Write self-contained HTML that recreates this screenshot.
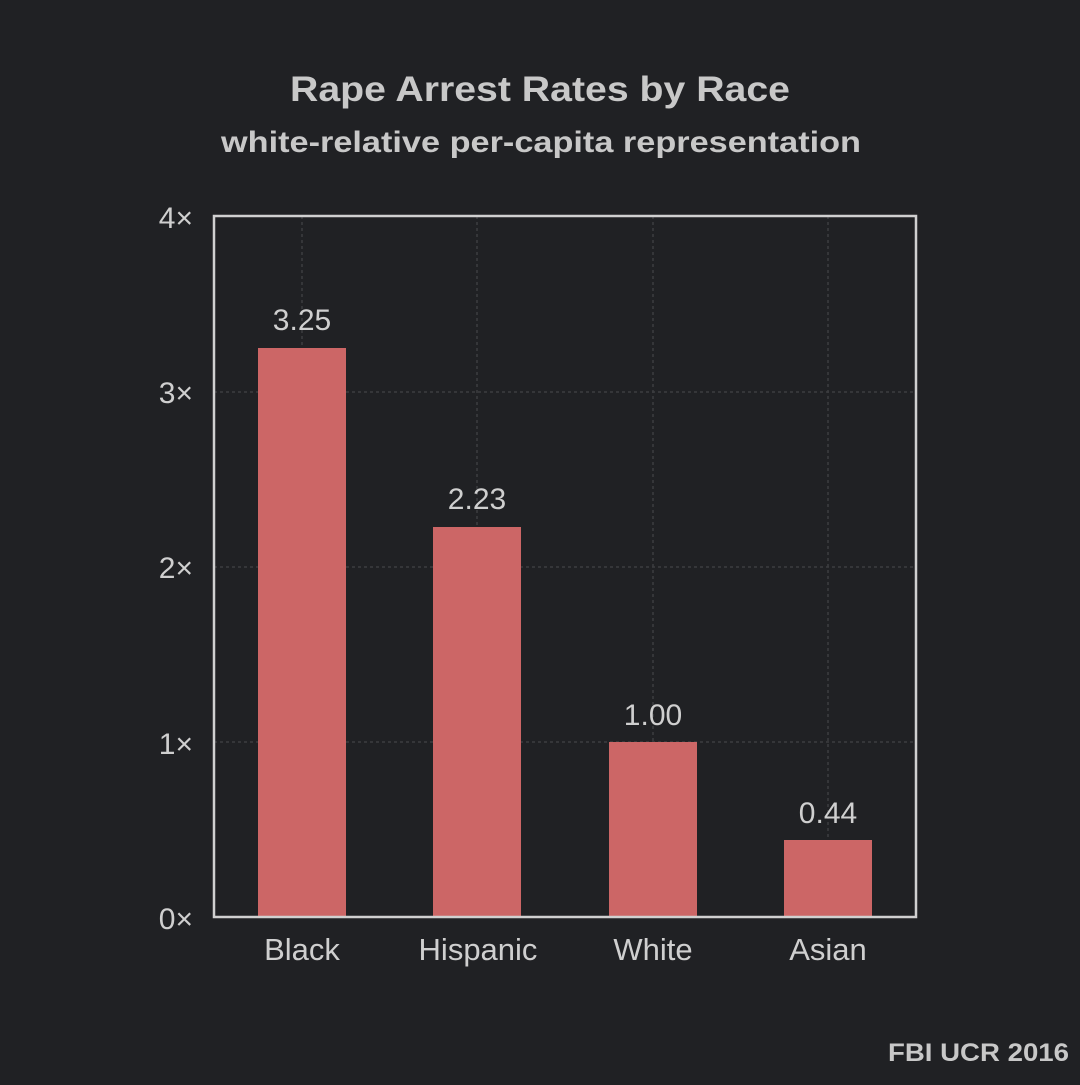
<!DOCTYPE html>
<html><head><meta charset="utf-8"><style>
html,body{margin:0;padding:0;background:#202124;}
</style></head><body>
<svg width="1080" height="1080" xmlns="http://www.w3.org/2000/svg" font-family="Liberation Sans, DejaVu Sans, sans-serif">
<rect width="1080" height="1080" fill="#202124"/>
<text x="290" y="101" textLength="500" lengthAdjust="spacingAndGlyphs" fill="#c8c8c8" font-size="35" font-weight="bold">Rape Arrest Rates by Race</text>
<text x="221" y="152" textLength="640" lengthAdjust="spacingAndGlyphs" fill="#c8c8c8" font-size="30" font-weight="bold">white-relative per-capita representation</text>
<g stroke="#3c3d40" stroke-width="1.5" stroke-dasharray="3,3">
<line x1="302" y1="216" x2="302" y2="917"/><line x1="477" y1="216" x2="477" y2="917"/>
<line x1="653" y1="216" x2="653" y2="917"/><line x1="828" y1="216" x2="828" y2="917"/>
<line x1="214" y1="392" x2="916" y2="392"/><line x1="214" y1="567" x2="916" y2="567"/>
<line x1="214" y1="742" x2="916" y2="742"/>
</g>
<g fill="#cc6666">
<rect x="258" y="348" width="88" height="569"/>
<rect x="433" y="527" width="88" height="390"/>
<rect x="609" y="742" width="88" height="175"/>
<rect x="784" y="840" width="88" height="77"/>
</g>
<rect x="214" y="216" width="702" height="701" fill="none" stroke="#d0d0d0" stroke-width="2.5"/>
<g fill="#cfcfcf" font-size="30" text-anchor="middle">
<text x="302" y="330">3.25</text><text x="477" y="509">2.23</text>
<text x="653" y="725">1.00</text><text x="828" y="823">0.44</text>
</g>
<g fill="#cfcfcf" font-size="31" text-anchor="middle">
<text x="302" y="960">Black</text><text x="478" y="960">Hispanic</text>
<text x="653" y="960">White</text><text x="828" y="960">Asian</text>
</g>
<g fill="#cfcfcf" font-size="30" text-anchor="end">
<text x="193" y="228">4×</text><text x="193" y="403">3×</text><text x="193" y="578">2×</text>
<text x="193" y="754">1×</text><text x="193" y="929">0×</text>
</g>
<text x="888" y="1061" textLength="181" lengthAdjust="spacingAndGlyphs" fill="#c8c8c8" font-size="25" font-weight="bold">FBI UCR 2016</text>
</svg>
</body></html>
